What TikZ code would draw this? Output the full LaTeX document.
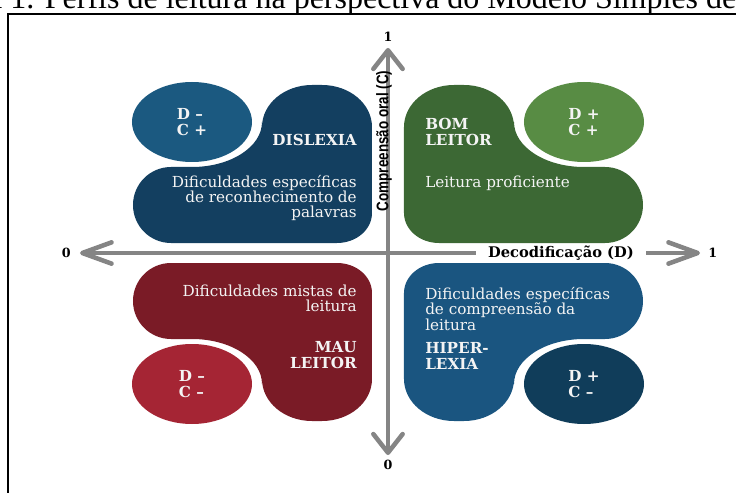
\documentclass[tikz,border=0pt]{standalone}
\usepackage{fontspec}
\setmainfont{DejaVu Serif}
\newfontfamily\capfont{Liberation Serif}
\newfontfamily\axfont{Liberation Sans}
\usetikzlibrary{arrows.meta,shapes.geometric}
\definecolor{dislexL}{HTML}{133F60}
\definecolor{dislexC}{HTML}{1B5980}
\definecolor{bomL}{HTML}{3C6834}
\definecolor{bomC}{HTML}{588C44}
\definecolor{mauL}{HTML}{7A1B26}
\definecolor{mauC}{HTML}{A52534}
\definecolor{hiperL}{HTML}{1A5580}
\definecolor{hiperC}{HTML}{103D5A}
\definecolor{axgray}{HTML}{858585}
\definecolor{paper}{HTML}{F4F4F4}

\begin{document}
\begin{tikzpicture}[x=0.75pt,y=-0.75pt,
  pics/lblob/.style={code={
    \path[pic actions] (-76,-168) -- (-66,-168)
      arc[start angle=-90,end angle=0,x radius=50,y radius=42] -- (-16,-40)
      arc[start angle=0,end angle=90,x radius=35,y radius=30] -- (-217,-10)
      arc[start angle=90,end angle=270,x radius=38,y radius=38] -- (-196,-86)
      arc[start angle=90,end angle=0,x radius=70,y radius=45] -- (-126,-126)
      arc[start angle=180,end angle=270,x radius=50,y radius=42] -- cycle;}},
  dot/.style={ellipse,fill=#1,minimum width=90pt,minimum height=60pt,inner sep=0pt,
    text=paper,align=left,font=\bfseries\fontsize{11.4}{11.4}\selectfont},
  title/.style={text=paper,inner sep=0pt,font=\bfseries\fontsize{11.4}{11.6}\selectfont},
  desc/.style={text=paper,inner sep=0pt,font=\fontsize{11.4}{11.4}\selectfont},
  axis/.style={draw=axgray,line width=3.4pt},
  harrow/.style={axis,{Straight Barb[length=22pt,width=16pt,round]}-{Straight Barb[length=22pt,width=16pt,round]}},
  varrow/.style={axis,{Straight Barb[length=14pt,width=22pt,round]}-{Straight Barb[length=14pt,width=22pt,round]}},
  axnum/.style={inner sep=0pt,font=\bfseries\fontsize{9.5}{10}\selectfont}]
\useasboundingbox (-388,-253) rectangle (348,240);
\clip (-388,-253) rectangle (348,240);
% caption and frame
\node[anchor=base west,inner sep=0pt,font=\capfont\fontsize{24}{26}\selectfont] (caption) at (-378,-244)
  {\llap{Figura }1. Perfis de leitura na perspectiva do Modelo Simples de\rlap{ Leitura}};
\draw[line width=2pt] (-380,-239) rectangle (400,300);
% axes
\coordinate (xl) at (-308,0);
\coordinate (xr) at (312,0);
\coordinate (yt) at (0,-205);
\coordinate (yb) at (0,202);
\draw[harrow] (xl) -- (xr);
\draw[varrow] (yb) -- (yt);
\node[axnum,anchor=east] (x0) at (-317,0) {0};
\node[axnum,anchor=west] (x1) at (320,0) {1};
\node[axnum,anchor=south] (y1) at (0,-211) {1};
\node[axnum,anchor=north] (y0) at (0,207) {0};
\node[fill=white,inner xsep=9pt,inner ysep=1pt,font=\bfseries\fontsize{11}{12}\selectfont] (dlab) at (173,0) {Decodificação (D)};
\node[rotate=90,inner sep=0pt,font=\axfont\bfseries\fontsize{12.6}{13}\selectfont] (clab) at (-4,-112)
  {\scalebox{0.8}[1]{Compreensão oral (C)}};
% quadrants
\pic[fill=dislexL] at (0,0) {lblob};
\pic[fill=bomL,xscale=-1] at (0,0) {lblob};
\pic[fill=mauL,yscale=-1] at (0,0) {lblob};
\pic[fill=hiperL,xscale=-1,yscale=-1] at (0,0) {lblob};
\node[dot=dislexC] (tl) at (-196,-131) {D –\\C +};
\node[dot=bomC] (tr) at (196,-131) {D +\\C +};
\node[dot=mauC] (bl) at (-196,131) {D –\\C –};
\node[dot=hiperC] (br) at (196,131) {D +\\C –};
\node[title,anchor=east] (dislexia) at (-31,-113) {DISLEXIA};
\node[desc,anchor=east,align=right] (dislexiat) at (-31,-55) {Dificuldades específicas\\de reconhecimento de\\palavras};
\node[title,anchor=west,align=left] (bom) at (37,-121) {BOM\\LEITOR};
\node[desc,anchor=west] (bomt) at (37,-70) {Leitura proficiente};
\node[desc,anchor=east,align=right] (maut) at (-31,45) {Dificuldades mistas de\\leitura};
\node[title,anchor=east,align=right] (mau) at (-31,102) {MAU\\LEITOR};
\node[desc,anchor=west,align=left] (hipert) at (37,56) {Dificuldades específicas\\de compreensão da\\leitura};
\node[title,anchor=west,align=left] (hiper) at (37,103) {HIPER-\\LEXIA};
\end{tikzpicture}
\end{document}
